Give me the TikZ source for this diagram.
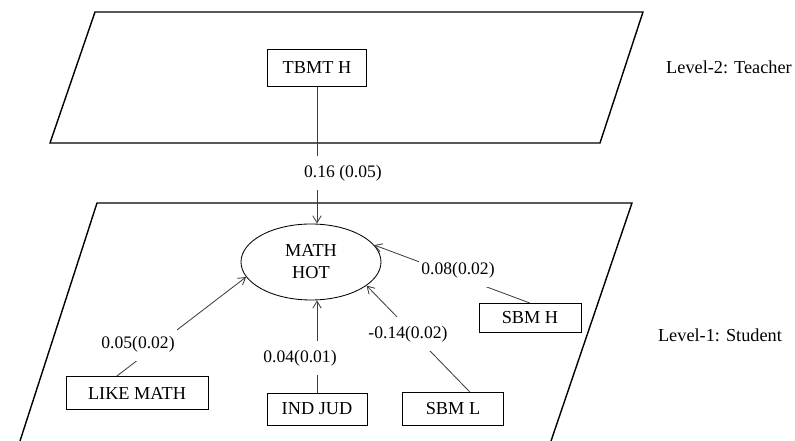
\documentclass[tikz,border=0pt]{standalone}
\usepackage{fontspec}
\setmainfont{Liberation Serif}
\usetikzlibrary{arrows.meta, shapes.geometric}

\begin{document}
\begin{tikzpicture}[
    font=\fontsize{13}{15.6}\selectfont,
    plane/.style={line width=1pt},
    var/.style={draw, line width=0.6pt, minimum height=0.8cm},
    link/.style={draw=black!75, line width=0.6pt, -{Straight Barb[length=5pt,width=6pt]}},
    coef/.style={fill=white, inner xsep=2pt, inner ysep=6.5pt, font=\fontsize{12.5}{15}\selectfont}
]
    \useasboundingbox (0,0) rectangle (19.875,11.025);

    % the two levels
    \draw[plane] (2.375,10.725) -- (16.075,10.725) -- (15.0,7.45) -- (1.25,7.45) -- cycle;
    \draw[plane] (0.5,0) -- (2.425,5.95) -- (15.8,5.95) -- (13.775,0);

    \node[var, minimum width=2.475cm, minimum height=0.925cm] (tbmt) at (7.925,9.325) {TBMT H};
    \node[draw, ellipse, line width=0.6pt, minimum width=3.5cm, minimum height=1.9cm, align=center] (hot) at (7.775,4.475) {MATH\\HOT};
    \node[var, minimum width=2.55cm, minimum height=0.725cm] (sbmh) at (13.25,3.075) {SBM H};
    \node[var, minimum width=3.55cm, minimum height=0.825cm] (like) at (3.425,1.2) {LIKE MATH};
    \node[var, minimum width=2.5cm] (ind) at (7.925,0.8) {IND JUD};
    \node[var, minimum width=2.525cm, minimum height=0.825cm] (sbml) at (11.325,0.8) {SBM L};

    % paths into the outcome
    \draw[link] (tbmt.south) -- (tbmt.south |- hot.north);
    \draw[link] (like.140) -- (hot.193);
    \draw[link] (ind.north) -- (ind.north |- hot.south);
    \draw[link] (sbml.45) -- (hot.-23);
    \draw[link] (sbmh.north) -- (hot.15);

    \node[coef] (c1) at (8.575,6.7) {0.16 (0.05)};
    \node[coef] (c2) at (3.45,2.425) {0.05(0.02)};
    \node[coef] (c3) at (7.5,2.075) {0.04(0.01)};
    \node[coef] (c4) at (10.2,2.675) {-0.14(0.02)};
    \node[coef] (c5) at (11.45,4.275) {0.08(0.02)};

    \node (lv2) at (18.225,9.35) {Level-2: Teacher};
    \node (lv1) at (18.0,2.65) {Level-1: Student};
\end{tikzpicture}
\end{document}
